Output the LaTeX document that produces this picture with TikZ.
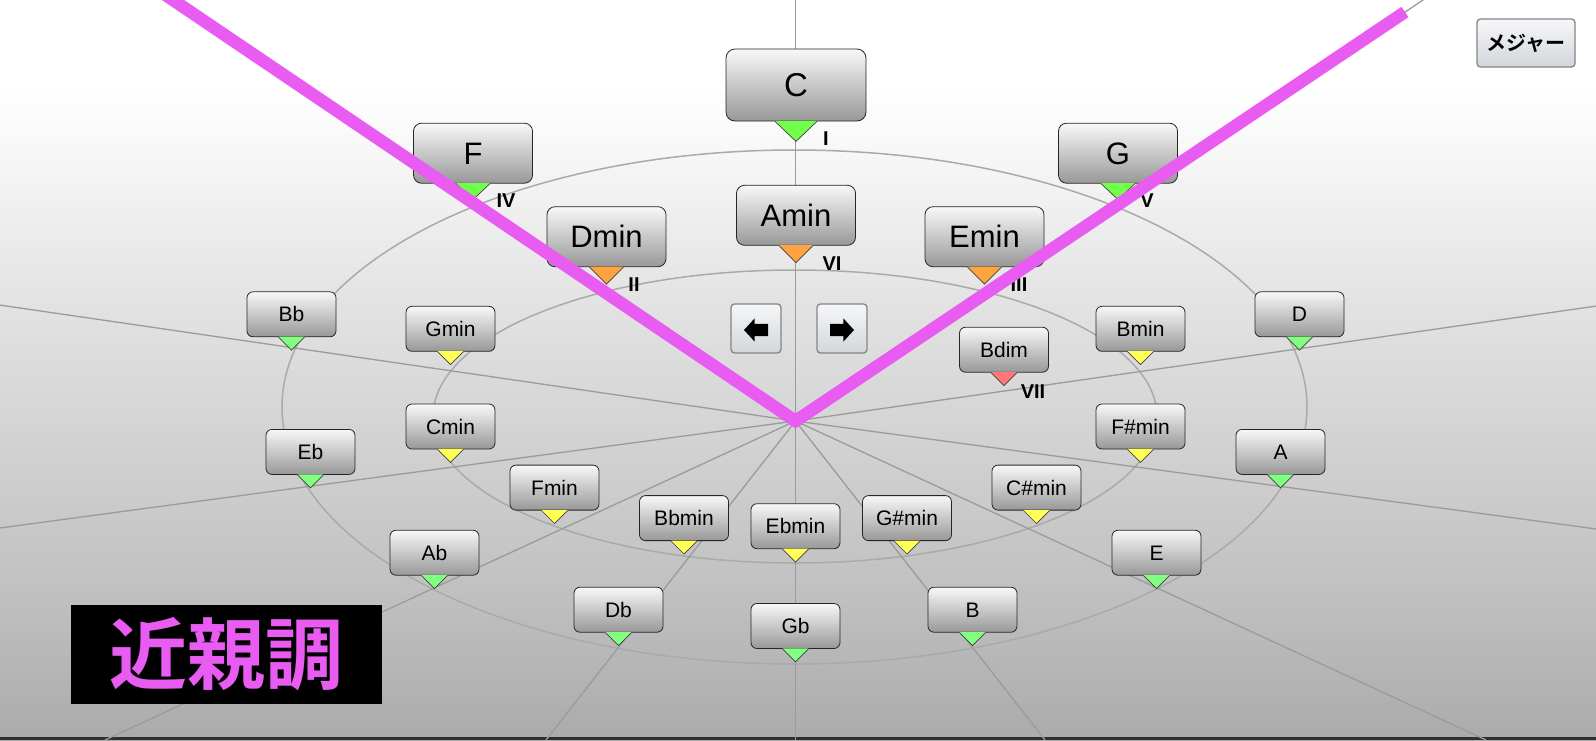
\documentclass[tikz,border=0pt]{standalone}
\usepackage{fontspec}
\setmainfont{Liberation Sans}
\newfontfamily\jpfont[BoldFont={Noto Sans CJK JP Bold}]{Noto Sans CJK JP}
\usetikzlibrary{calc}

\definecolor{pinkline}{RGB}{233,92,242}
\definecolor{raygray}{RGB}{155,155,155}
\definecolor{ellgray}{RGB}{170,170,170}
\definecolor{majgreen}{RGB}{128,255,128}
\definecolor{tongreen}{RGB}{112,255,74}
\definecolor{orng}{RGB}{255,163,64}
\definecolor{yel}{RGB}{255,255,85}
\definecolor{redp}{RGB}{255,120,120}
\definecolor{btop}{RGB}{248,248,248}
\definecolor{bbot}{RGB}{152,152,152}
\definecolor{navtop}{RGB}{246,247,249}
\definecolor{navmid}{RGB}{232,234,236}
\definecolor{navbot}{RGB}{210,214,218}
\definecolor{barcol}{RGB}{44,48,52}

\pgfdeclareverticalshading{bgshade}{100bp}{color(0bp)=(black!33); color(25bp)=(black!33); color(34.5bp)=(black!25); color(44.6bp)=(black!18); color(54.7bp)=(black!11); color(64.9bp)=(black!3); color(69bp)=(white); color(100bp)=(white)}

\tikzset{
  chordS/.style={draw=black!85, line width=0.8pt, rounded corners=6pt,
    top color=btop, bottom color=bbot, minimum width=89pt, minimum height=45pt,
    inner sep=0pt, font=\fontsize{21}{21}\selectfont, text height=15pt, text depth=0pt},
  chordL/.style={chordS, minimum width=119pt, minimum height=60pt, rounded corners=8pt,
    font=\fontsize{31}{31}\selectfont, text height=22.2pt},
  chordC/.style={chordL, minimum width=140pt, minimum height=72pt, rounded corners=9pt,
    font=\fontsize{33}{33}\selectfont, text height=23.6pt},
  roman/.style={inner sep=0pt, font=\bfseries\fontsize{20}{20}\selectfont, text height=14.3pt, text depth=0pt},
  ray/.style={draw=raygray, line width=1.3pt},
  ell/.style={draw=ellgray, line width=1.5pt},
  trisides/.style={draw=black!75, line width=0.7pt},
  navbtn/.style={draw=black!48, line width=1.3pt, rounded corners=3.5pt,
    top color=navtop, middle color=navmid, bottom color=navbot, inner sep=0pt},
  pinkv/.style={draw=pinkline, line width=12.5pt, line join=miter, line cap=butt},
}

\newcommand\tri[4]{%
  \fill[#4] ([xshift=-#2pt,yshift=0.5pt]#1.south) -- ([yshift=-#3pt]#1.south) -- ([xshift=#2pt,yshift=0.5pt]#1.south) -- cycle;
  \draw[trisides] ([xshift=-#2pt]#1.south) -- ([yshift=-#3pt]#1.south) -- ([xshift=#2pt]#1.south);
}

\begin{document}
\begin{tikzpicture}[x=1pt,y=-1pt]
\useasboundingbox (0,0) rectangle (1596,740);
\clip (0,0) rectangle (1596,740);
\shade[shading=bgshade] (0,0) rectangle (1596,740);
\fill[barcol] (0,737) rectangle (1596,740);

% ellipses
\draw[ell] (794.5,407) ellipse [x radius=512.5, y radius=257];
\draw[ell] (795,416.5) ellipse [x radius=362, y radius=146.5];

% rays
\coordinate (O) at (795.5,421);
\coordinate (rC) at (795.5,-2);
\coordinate (rG) at (1426,-2);
\coordinate (rD) at (1600,305.5);
\coordinate (rA) at (1600,529.5);
\coordinate (rE) at (1486,740);
\coordinate (rB) at (1045,740);
\coordinate (rGb) at (795.5,740);
\coordinate (rDb) at (546,740);
\coordinate (rAb) at (105,740);
\coordinate (rEb) at (-4,528.5);
\coordinate (rBb) at (-4,304.5);
\coordinate (rF) at (165,-2);
\foreach \r in {rC,rG,rD,rA,rE,rB,rGb,rDb,rAb,rEb,rBb,rF}
  \draw[ray] (O) -- (\r);

% large chords
\node[chordC] (C) at (796,85) {C};
\tri{C}{21}{20}{tongreen}
\node[chordL] (F) at (473,153.2) {F};
\tri{F}{17}{16}{tongreen}
\node[chordL] (G) at (1118,153.2) {G};
\tri{G}{17}{16}{tongreen}
\node[chordL] (Amin) at (796,215.3) {Amin};
\tri{Amin}{17}{17}{orng}
\node[chordL] (Dmin) at (606.5,236.7) {Dmin};
\tri{Dmin}{17}{17}{orng}
\node[chordL] (Emin) at (984.5,236.7) {Emin};
\tri{Emin}{17}{17}{orng}

% outer ring
\node[chordS] (Bb) at (291.5,314.3) {Bb};
\node[chordS] (D) at (1299.5,314.3) {D};
\node[chordS] (Eb) at (310.5,451.9) {Eb};
\node[chordS] (A) at (1280.5,451.9) {A};
\node[chordS] (Ab) at (434.5,552.7) {Ab};
\node[chordS] (E) at (1156.5,552.7) {E};
\node[chordS] (Db) at (618.5,609.7) {Db};
\node[chordS] (B) at (972.5,609.7) {B};
\node[chordS] (Gb) at (795.5,626) {Gb};
\foreach \n in {Bb,D,Eb,A,Ab,E,Db,B,Gb} {\tri{\n}{13}{13}{majgreen}}

% inner ring
\node[chordS] (Gmin) at (450.5,328.8) {Gmin};
\node[chordS] (Bmin) at (1140.5,328.8) {Bmin};
\node[chordS] (Cmin) at (450.5,426.5) {Cmin};
\node[chordS] (Fsmin) at (1140.5,426.5) {F\#min};
\node[chordS] (Fmin) at (554.5,487.6) {Fmin};
\node[chordS] (Csmin) at (1036.5,487.6) {C\#min};
\node[chordS] (Bbmin) at (684,518.1) {Bbmin};
\node[chordS] (Gsmin) at (907,518.1) {G\#min};
\node[chordS] (Ebmin) at (795.5,526.2) {Ebmin};
\foreach \n in {Gmin,Bmin,Cmin,Fsmin,Fmin,Csmin,Bbmin,Gsmin,Ebmin} {\tri{\n}{13}{13}{yel}}
\node[chordS] (Bdim) at (1004,349.7) {Bdim};
\tri{Bdim}{13}{13}{redp}

% roman numerals
\node[roman] (lI) at (826,138) {I};
\node[roman] (lIV) at (506,200) {IV};
\node[roman] (lV) at (1147,200) {V};
\node[roman] (lVI) at (832,263) {VI};
\node[roman] (lII) at (634,284) {II};
\node[roman] (lIII) at (1019,284) {III};
\node[roman] (lVII) at (1033,391) {VII};

% navigation buttons
\node[navbtn, minimum width=50pt, minimum height=49pt] (prev) at (756,328.5) {};
\node[navbtn, minimum width=50pt, minimum height=49pt] (next) at (842,328.5) {};
\fill[black] ([xshift=-12pt,yshift=-1.5pt]prev.center) -- ++(10.7pt,11.7pt) -- ++(0pt,-5.5pt) -- ++(13.3pt,0pt)
  -- ++(0pt,-12.4pt) -- ++(-13.3pt,0pt) -- ++(0pt,-5.5pt) -- cycle;
\fill[black] ([xshift=12pt,yshift=-1.5pt]next.center) -- ++(-10.7pt,11.7pt) -- ++(0pt,-5.5pt) -- ++(-13.3pt,0pt)
  -- ++(0pt,-12.4pt) -- ++(13.3pt,0pt) -- ++(0pt,-5.5pt) -- cycle;

% mode button
\node[navbtn, minimum width=98pt, minimum height=48pt, font=\jpfont\bfseries\fontsize{20}{20}\selectfont] (mode) at (1526,43) {メジャー};

% title
\node[fill=black, minimum width=311pt, minimum height=99pt, inner sep=0pt, text=pinkline,
  font=\jpfont\bfseries\fontsize{78}{78}\selectfont] (title) at (226.5,654.5) {近親調};

% pink V
\coordinate (pL) at (165.6,-5);
\coordinate (pR) at (1405,12);
\draw[pinkv] (pL) -- (O) -- (pR);
\end{tikzpicture}
\end{document}
